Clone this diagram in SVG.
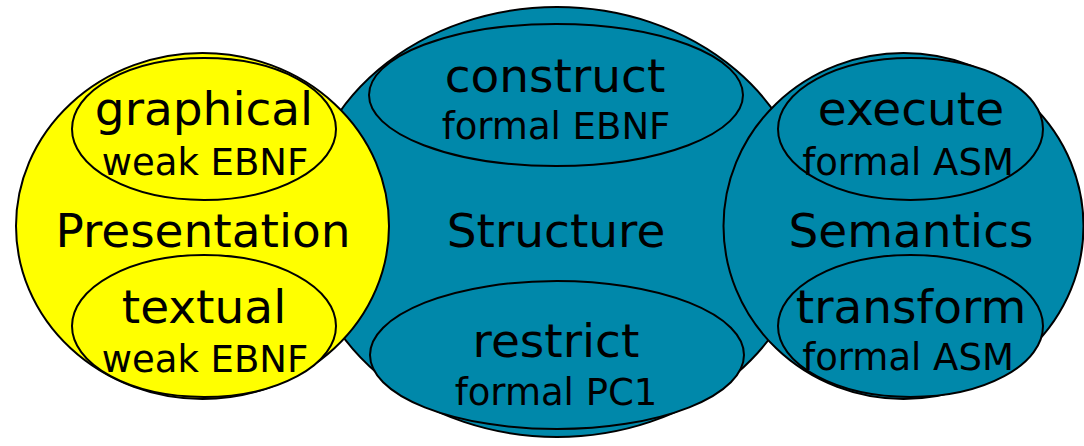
<svg xmlns="http://www.w3.org/2000/svg" width="1084" height="446" viewBox="0 0 1084 446">
  <style>
    .outer { stroke: #000; stroke-width: 2; }
    .inner { stroke: #000; stroke-width: 2; }
    .blue { fill: #0088AA; }
    .yellow { fill: #FFFF00; }
    text { font-family: "DejaVu Sans", Verdana, sans-serif; fill: #000; text-anchor: middle; }
    .big { font-size: 47px; }
    .small { font-size: 37px; }
  </style>

  <!-- Structure (drawn first, the side circles overlap it) -->
  <g id="structure">
    <ellipse class="outer blue" cx="557" cy="222" rx="253" ry="215"/>
    <text class="big" x="556" y="247">Structure</text>
    <g id="construct">
      <ellipse class="inner blue" cx="556" cy="95" rx="187" ry="71"/>
      <text class="big" x="555" y="92">construct</text>
      <text class="small" x="556" y="139">formal EBNF</text>
    </g>
    <g id="restrict">
      <ellipse class="inner blue" cx="557" cy="355" rx="187" ry="74"/>
      <text class="big" x="556" y="357">restrict</text>
      <text class="small" x="556" y="405">formal PC1</text>
    </g>
  </g>

  <!-- Presentation -->
  <g id="presentation">
    <ellipse class="outer yellow" cx="202.5" cy="226" rx="186.5" ry="173"/>
    <text class="big" x="203" y="247">Presentation</text>
    <g id="graphical">
      <ellipse class="inner yellow" cx="204" cy="129" rx="132" ry="71"/>
      <text class="big" x="204" y="125">graphical</text>
      <text class="small" x="205" y="175">weak EBNF</text>
    </g>
    <g id="textual">
      <ellipse class="inner yellow" cx="204" cy="326" rx="132" ry="71"/>
      <text class="big" x="204" y="323">textual</text>
      <text class="small" x="205" y="372">weak EBNF</text>
    </g>
  </g>

  <!-- Semantics -->
  <g id="semantics">
    <ellipse class="outer blue" cx="903.5" cy="226" rx="180" ry="173"/>
    <text class="big" x="911" y="247">Semantics</text>
    <g id="execute">
      <ellipse class="inner blue" cx="910.5" cy="129" rx="132.5" ry="71"/>
      <text class="big" x="911" y="125">execute</text>
      <text class="small" x="908" y="175">formal ASM</text>
    </g>
    <g id="transform">
      <ellipse class="inner blue" cx="910.5" cy="326" rx="132.5" ry="71"/>
      <text class="big" x="911" y="323">transform</text>
      <text class="small" x="908" y="370">formal ASM</text>
    </g>
  </g>

  <!-- no connectors in this figure -->
  <g id="connectors"/>
</svg>
